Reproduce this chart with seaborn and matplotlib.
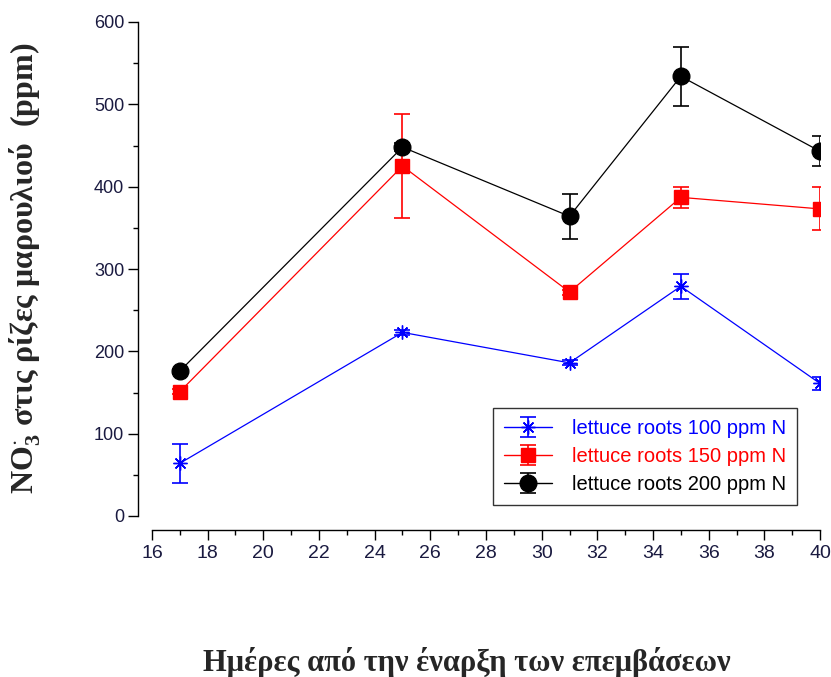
import numpy as np
import pandas as pd
import matplotlib
matplotlib.use("Agg")
import matplotlib.pyplot as plt
from matplotlib.ticker import MultipleLocator
import seaborn as sns

days = [17, 25, 31, 35, 40]
n100 = [64, 223, 186, 279, 161]
n100_err = [24, 3, 3, 15, 8]
n150 = [151, 425, 272, 387, 373]
n150_err = [3, 63, 3, 13, 26]
n200 = [176, 448, 364, 534, 443]
n200_err = [3, 5, 27, 36, 18]
labels = ["lettuce roots 100 ppm N", "lettuce roots 150 ppm N", "lettuce roots 200 ppm N"]
colors = ["#0000ff", "#ff0000", "#000000"]
markers = [(8, 2, 0), "s", "o"]
msizes = [10, 9.5, 12]

sns.set_style("ticks")
plt.rcParams["font.family"] = ["Liberation Sans", "DejaVu Sans"]
plt.rcParams["mathtext.fontset"] = "custom"
plt.rcParams["mathtext.rm"] = "Liberation Serif:bold"
plt.rcParams["mathtext.it"] = "Liberation Serif:bold"
plt.rcParams["mathtext.bf"] = "Liberation Serif:bold"

fig = plt.figure(figsize=(8.31, 6.77), dpi=100)
ax = fig.add_axes([152/831, 1-516/677, (820-152)/831, (516-22)/677])

series = [(n100, n100_err), (n150, n150_err), (n200, n200_err)]

handles = []
for (v, e), c, m, ms, lab in zip(series, colors, markers, msizes, labels):
    df = pd.DataFrame({"day": days, "val": v})
    sns.lineplot(data=df, x="day", y="val", color=c, marker=m, markersize=ms,
                 markerfacecolor=c, markeredgecolor=c, markeredgewidth=1.0,
                 linewidth=0.9, legend=False, ax=ax, zorder=3)
    ax.errorbar(days, v, yerr=e, fmt="none", ecolor=c, elinewidth=1.2, capsize=6,
                capthick=1.2, zorder=2)
    h = ax.errorbar([np.nan], [np.nan], yerr=[1], fmt="-", marker=m, color=c, mfc=c, mec=c,
                    markersize=ms, linewidth=1.0, elinewidth=1.2, capsize=6, capthick=1.2,
                    label=lab)
    handles.append(h)

ax.set_xlim(16, 40)
ax.set_ylim(0, 600)
ax.xaxis.set_major_locator(MultipleLocator(2))
ax.xaxis.set_minor_locator(MultipleLocator(1))
ax.yaxis.set_major_locator(MultipleLocator(100))
ax.yaxis.set_minor_locator(MultipleLocator(50))
for s in ["top", "right"]:
    ax.spines[s].set_visible(False)
ax.spines["left"].set_position(("outward", 10))
ax.spines["bottom"].set_position(("outward", 10))
for s in ["left", "bottom"]:
    ax.spines[s].set_linewidth(1.0)
    ax.spines[s].set_color("black")
ax.tick_params(axis="both", which="major", direction="out", length=7, width=1.0,
               labelcolor="#1a1a40", color="black")
ax.tick_params(axis="y", labelsize=13, pad=3)
ax.tick_params(axis="x", labelsize=14, pad=4)
ax.tick_params(axis="both", which="minor", direction="out", length=3.8, width=1.0, color="black")
ax.set_xlabel("")
ax.set_ylabel("")

serif = ["Liberation Serif", "DejaVu Serif"]
fig.text(467/831, 1-662/677, "Ημέρες από την έναρξη των επεμβάσεων", family=serif,
         fontsize=22, fontweight="bold", ha="center", va="center")
fig.text(25/831, 1-268/677, r"NO$_{3}^{\cdot}$ στις ρίζες μαρουλιού  (ppm)", family=serif,
         fontsize=23, fontweight="bold", ha="center", va="center", rotation=90)

leg = ax.legend(handles=handles, labels=labels, loc="lower right", bbox_to_anchor=(0.966, 0.022),
                borderaxespad=0, frameon=True, fancybox=False, edgecolor="black",
                fontsize=14.5, handlelength=2.4, handletextpad=1.0, labelspacing=0.45,
                borderpad=0.55)
leg.get_frame().set_linewidth(1.0)
for t, c in zip(leg.get_texts(), colors):
    t.set_color(c)

fig.savefig("out.png", dpi=100)
